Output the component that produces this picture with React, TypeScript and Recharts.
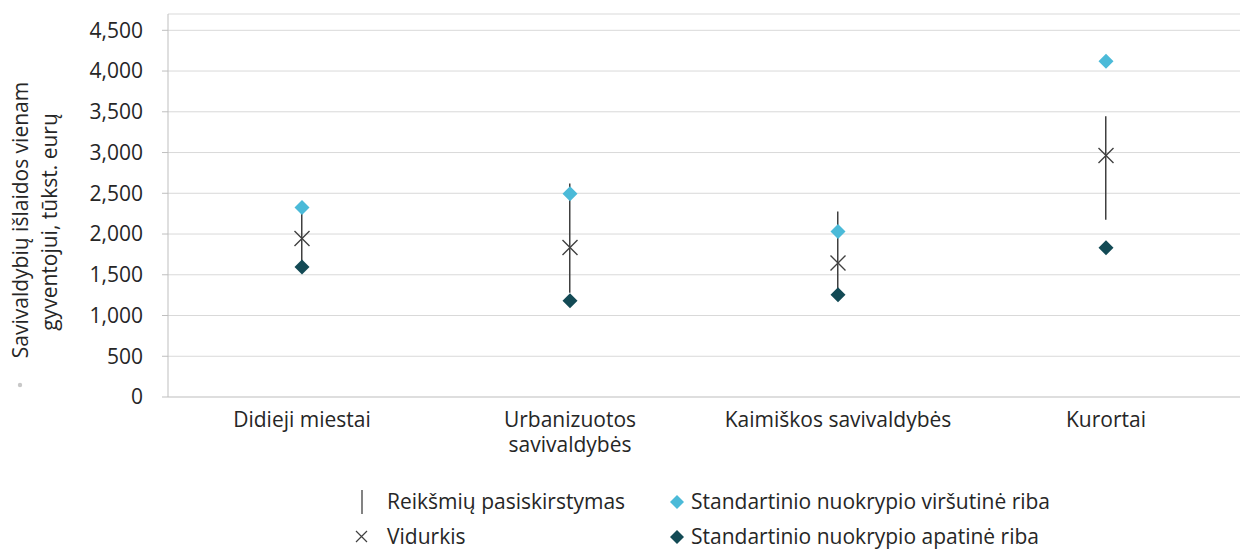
import { ComposedChart, Bar, Scatter, XAxis, YAxis, CartesianGrid } from 'recharts';

const categories = ['Didieji miestai', 'Urbanizuotos savivaldybės', 'Kaimiškos savivaldybės', 'Kurortai'];
const rangeMin = [1600, 1280, 1300, 2175];
const rangeMax = [2330, 2620, 2275, 3445];
const means = [1945, 1835, 1645, 2965];
const upperSd = [2325, 2495, 2030, 4120];
const lowerSd = [1595, 1180, 1255, 1830];
const yTicks = [0, 500, 1000, 1500, 2000, 2500, 3000, 3500, 4000, 4500];

const tickLines: Record<string, string[]> = {
  'Urbanizuotos savivaldybės': ['Urbanizuotos', 'savivaldybės'],
};

const data = categories.map((name, i) => ({
  name,
  range: [rangeMin[i], rangeMax[i]],
  mean: means[i],
  upper: upperSd[i],
  lower: lowerSd[i],
}));

const FONT = '"Open Sans", Lato, sans-serif';
const FS = 21;
const UPPER = '#4bbad8';
const LOWER = '#134a55';
const DARK = '#404040';
const TEXT = '#262626';

function Diamond({ cx, cy, fill }: any) {
  const r = 7.5;
  return <path d={`M${cx},${cy - r}L${cx + r},${cy}L${cx},${cy + r}L${cx - r},${cy}Z`} fill={fill} />;
}

function Cross({ cx, cy }: any) {
  const r = 7.5;
  return (
    <path
      d={`M${cx - r},${cy - r}L${cx + r},${cy + r}M${cx - r},${cy + r}L${cx + r},${cy - r}`}
      stroke={DARK}
      strokeWidth={1.4}
      fill="none"
    />
  );
}

// category labels, second one broken onto two lines like the original
function CategoryTick({ x, y, payload }: any) {
  const lines = tickLines[payload.value] || [payload.value];
  return (
    <text x={x} y={y} textAnchor="middle" fontFamily={FONT} fontSize={FS} fill={TEXT}>
      {lines.map((l, i) => (
        <tspan key={i} x={x} dy={i === 0 ? 22 : 25}>
          {l}
        </tspan>
      ))}
    </text>
  );
}

function AxisTitle() {
  return (
    <g fontFamily={FONT} fontSize={FS} fill={TEXT}>
      <text x={28} y={220} textAnchor="middle" transform="rotate(-90 28 220)">
        Savivaldybių išlaidos vienam
      </text>
      <text x={57} y={222} textAnchor="middle" transform="rotate(-90 57 222)">
        gyventojui, tūkst. eurų
      </text>
      <circle cx={20} cy={385} r={2.2} fill="#c8c8c8" />
    </g>
  );
}

const legendText: React.CSSProperties = {
  fontFamily: FONT,
  fontSize: FS,
  color: TEXT,
  position: 'absolute',
  whiteSpace: 'nowrap',
};

export default function App() {
  return (
    <div style={{ position: 'absolute', left: 0, top: 0, width: 1241, height: 549, background: '#fff', overflow: 'hidden' }}>
      <ComposedChart width={1241} height={549} data={data} margin={{ top: 14, right: 1, bottom: 0, left: 0 }}>
        <CartesianGrid vertical={false} stroke="#d9d9d9" />
        <XAxis
          dataKey="name"
          height={152}
          tick={<CategoryTick />}
          tickLine={false}
          axisLine={{ stroke: '#d0d0d0' }}
          interval={0}
        />
        <YAxis
          width={168}
          domain={[0, 4700]}
          ticks={yTicks}
          tickFormatter={(v: number) => v.toLocaleString('en-US')}
          tick={{ fontFamily: FONT, fontSize: FS, fill: TEXT }}
          tickSize={6}
          tickMargin={19}
          tickLine={{ stroke: '#bfbfbf' }}
          axisLine={{ stroke: '#bfbfbf' }}
        />
        <Bar dataKey="range" barSize={1.5} fill={DARK} isAnimationActive={false} />
        <Scatter dataKey="upper" shape={<Diamond fill={UPPER} />} isAnimationActive={false} />
        <Scatter dataKey="lower" shape={<Diamond fill={LOWER} />} isAnimationActive={false} />
        <Scatter dataKey="mean" shape={<Cross />} isAnimationActive={false} />
        <AxisTitle />
      </ComposedChart>
      <svg style={{ position: 'absolute', left: 0, top: 0 }} width={1241} height={549} pointerEvents="none">
        <line x1={362} y1={490} x2={362} y2={514} stroke={DARK} strokeWidth={1.3} />
        <path d="M356,531L367,542M356,542L367,531" stroke={DARK} strokeWidth={1.2} fill="none" />
        <path d="M677,495L684,502L677,509L670,502Z" fill={UPPER} />
        <path d="M677,530L684,537L677,544L670,537Z" fill={LOWER} />
      </svg>
      <div style={{ ...legendText, left: 387, top: 487 }}>Reikšmių pasiskirstymas</div>
      <div style={{ ...legendText, left: 387, top: 522 }}>Vidurkis</div>
      <div style={{ ...legendText, left: 691, top: 487 }}>Standartinio nuokrypio viršutinė riba</div>
      <div style={{ ...legendText, left: 691, top: 522 }}>Standartinio nuokrypio apatinė riba</div>
    </div>
  );
}
